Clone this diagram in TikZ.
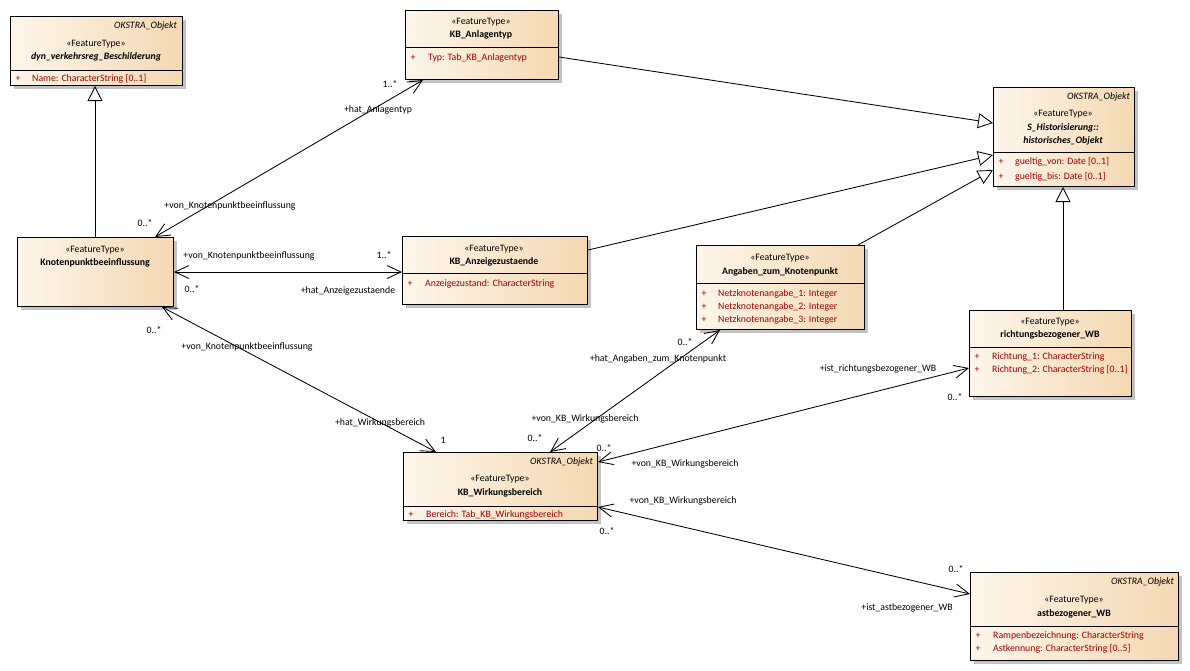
\documentclass[tikz,border=0pt]{standalone}
\usepackage{fontspec}
\setmainfont{Carlito}
\usetikzlibrary{arrows.meta,shadows,calc}
\definecolor{boxL}{RGB}{253,246,235}
\definecolor{boxR}{RGB}{244,216,178}
\definecolor{attr}{RGB}{155,0,0}
\definecolor{shad}{RGB}{195,195,195}
\newcommand\fs{\fontsize{9.8}{11}\selectfont}
\tikzset{
 cls/.style={draw=black, line width=1pt, left color=boxL, right color=boxR,
   inner sep=0pt, anchor=north west,
   drop shadow={shadow xshift=3pt,shadow yshift=-3pt,fill=shad,opacity=1}},
 sepline/.style={line width=0.9pt},
 stereo/.style={font=\fs, inner sep=0pt},
 cname/.style={font=\fs\bfseries, inner sep=0pt},
 cnamei/.style={font=\fs\bfseries\itshape, inner sep=0pt},
 obj/.style={font=\fs\itshape, anchor=east, inner sep=0pt},
 att/.style={font=\fs, text=attr, anchor=west, inner sep=0pt},
 plus/.style={font=\fs, text=attr, inner sep=0pt},
 lbl/.style={font=\fs, inner sep=0pt},
 barb/.tip={Straight Barb[length=14pt,width=13pt,line width=0.85pt]},
 assoc/.style={line width=0.85pt, barb-barb},
 gen/.style={line width=0.85pt, -{Triangle[open,length=15pt,width=15pt,fill=white,line width=0.85pt]}},
}
\begin{document}
\begin{tikzpicture}[x=1pt,y=-1pt]
\useasboundingbox (0,0) rectangle (1190,670);

% ---------- classes ----------
\node[cls, minimum width=172pt, minimum height=69pt] (dyn) at (10,16) {};
\draw[sepline] (dyn.west |- 0,70) -- (dyn.east |- 0,70);
\node[obj] (dynO) at (177,26) {OKSTRA\_Objekt};
\node[stereo] (dynS) at (96,44) {«FeatureType»};
\node[cnamei] (dynN) at (96,57) {dyn\_verkehrsreg\_Beschilderung};
\node[plus] (dynP1) at (18,79) {+};
\node[att] (dynA1) at (32,79) {Name: CharacterString [0..1]};

\node[cls, minimum width=153pt, minimum height=69pt] (anl) at (405,10) {};
\draw[sepline] (anl.west |- 0,47) -- (anl.east |- 0,47);
\node[stereo] (anlS) at (481,22) {«FeatureType»};
\node[cname] (anlN) at (481,35) {KB\_Anlagentyp};
\node[plus] (anlP1) at (413,58) {+};
\node[att] (anlA1) at (428,58) {Typ: Tab\_KB\_Anlagentyp};

\node[cls, minimum width=141pt, minimum height=99pt] (hist) at (993,87) {};
\draw[sepline] (hist.west |- 0,152) -- (hist.east |- 0,152);
\node[obj] (histO) at (1130,97) {OKSTRA\_Objekt};
\node[stereo] (histS) at (1063,114) {«FeatureType»};
\node[cnamei] (histN1) at (1063,128) {S\_Historisierung::};
\node[cnamei] (histN2) at (1063,141) {historisches\_Objekt};
\node[plus] (histP1) at (1001,162) {+};
\node[att] (histA1) at (1015,162) {gueltig\_von: Date [0..1]};
\node[plus] (histP2) at (1001,177) {+};
\node[att] (histA2) at (1015,177) {gueltig\_bis: Date [0..1]};

\node[cls, minimum width=156pt, minimum height=69pt] (knot) at (17,237) {};
\node[stereo] (knotS) at (95,250) {«FeatureType»};
\node[cname] (knotN) at (95,263) {Knotenpunktbeeinflussung};

\node[cls, minimum width=185pt, minimum height=68pt] (anz) at (402,236) {};
\draw[sepline] (anz.west |- 0,273) -- (anz.east |- 0,273);
\node[stereo] (anzS) at (494,249) {«FeatureType»};
\node[cname] (anzN) at (494,262) {KB\_Anzeigezustaende};
\node[plus] (anzP1) at (410,284) {+};
\node[att] (anzA1) at (425,284) {Anzeigezustand: CharacterString};

\node[cls, minimum width=168pt, minimum height=84pt] (ang) at (696,245) {};
\draw[sepline] (ang.west |- 0,283) -- (ang.east |- 0,283);
\node[stereo] (angS) at (780,258) {«FeatureType»};
\node[cname] (angN) at (780,272) {Angaben\_zum\_Knotenpunkt};
\node[plus] (angP1) at (704,294) {+};
\node[att] (angA1) at (718,294) {Netzknotenangabe\_1: Integer};
\node[plus] (angP2) at (704,307) {+};
\node[att] (angA2) at (718,307) {Netzknotenangabe\_2: Integer};
\node[plus] (angP3) at (704,320) {+};
\node[att] (angA3) at (718,320) {Netzknotenangabe\_3: Integer};

\node[cls, minimum width=162pt, minimum height=86pt] (ri) at (969,310) {};
\draw[sepline] (ri.west |- 0,347) -- (ri.east |- 0,347);
\node[stereo] (riS) at (1050,322) {«FeatureType»};
\node[cname] (riN) at (1050,335) {richtungsbezogener\_WB};
\node[plus] (riP1) at (977,357) {+};
\node[att] (riA1) at (992,357) {Richtung\_1: CharacterString};
\node[plus] (riP2) at (977,370) {+};
\node[att] (riA2) at (992,370) {Richtung\_2: CharacterString [0..1]};

\node[cls, minimum width=194pt, minimum height=68pt] (wb) at (403,452) {};
\draw[sepline] (wb.west |- 0,506) -- (wb.east |- 0,506);
\node[obj] (wbO) at (593,462) {OKSTRA\_Objekt};
\node[stereo] (wbS) at (500,479) {«FeatureType»};
\node[cname] (wbN) at (500,493) {KB\_Wirkungsbereich};
\node[plus] (wbP1) at (411,515) {+};
\node[att] (wbA1) at (426,515) {Bereich: Tab\_KB\_Wirkungsbereich};

\node[cls, minimum width=208pt, minimum height=88pt] (ast) at (970,572) {};
\draw[sepline] (ast.west |- 0,626) -- (ast.east |- 0,626);
\node[obj] (astO) at (1174,582) {OKSTRA\_Objekt};
\node[stereo] (astS) at (1074,600) {«FeatureType»};
\node[cname] (astN) at (1074,614) {astbezogener\_WB};
\node[plus] (astP1) at (978,636) {+};
\node[att] (astA1) at (993,636) {Rampenbezeichnung: CharacterString};
\node[plus] (astP2) at (978,649) {+};
\node[att] (astA2) at (993,649) {Astkennung: CharacterString [0..5]};

% ---------- generalizations ----------
\draw[gen] (knot.north -| 95,0) -- (dyn.south -| 95,0);
\draw[gen] (anl.east |- 0,57) -- (hist.west |- 0,123);
\draw[gen] (anz.east |- 0,250) -- (hist.west |- 0,155);
\draw[gen] (ang.north -| 858,0) -- (hist.west |- 0,170);
\draw[gen] (ri.north -| 1063,0) -- (hist.south -| 1063,0);

% ---------- associations ----------
\draw[assoc] (knot.north -| 155,0) -- (anl.south -| 423,0);
\node[lbl] (l1a) at (390,84) {1..*};
\node[lbl] (l1b) at (378,110) {+hat\_Anlagentyp};
\node[lbl] (l1c) at (230,206) {+von\_Knotenpunktbeeinflussung};
\node[lbl] (l1d) at (145,223) {0..*};

\draw[assoc] (knot.east |- 0,272) -- (anz.west |- 0,272);
\node[lbl] (l2a) at (249,256) {+von\_Knotenpunktbeeinflussung};
\node[lbl] (l2b) at (384,255) {1..*};
\node[lbl] (l2c) at (192,289) {0..*};
\node[lbl] (l2d) at (348,291) {+hat\_Anzeigezustaende};

\draw[assoc] (knot.south -| 162,0) -- (wb.north -| 436,0);
\node[lbl] (l3a) at (154,330) {0..*};
\node[lbl] (l3b) at (247,347) {+von\_Knotenpunktbeeinflussung};
\node[lbl] (l3c) at (380,423) {+hat\_Wirkungsbereich};
\node[lbl] (l3d) at (443,440) {1};

\draw[assoc] (wb.north -| 550,0) -- (ang.south -| 720,0);
\node[lbl] (l4a) at (685,342) {0..*};
\node[lbl] (l4b) at (658,359) {+hat\_Angaben\_zum\_Knotenpunkt};
\node[lbl] (l4c) at (585,419) {+von\_KB\_Wirkungsbereich};
\node[lbl] (l4d) at (535,438) {0..*};

\draw[assoc] (wb.east |- 0,462) -- (ri.west |- 0,368);
\node[lbl] (l5a) at (604,448) {0..*};
\node[lbl] (l5b) at (685,464) {+von\_KB\_Wirkungsbereich};
\node[lbl] (l5c) at (878,369) {+ist\_richtungsbezogener\_WB};
\node[lbl] (l5d) at (955,397) {0..*};

\draw[assoc] (wb.east |- 0,507) -- (ast.west |- 0,594);
\node[lbl] (l6a) at (683,501) {+von\_KB\_Wirkungsbereich};
\node[lbl] (l6b) at (607,531) {0..*};
\node[lbl] (l6c) at (956,569) {0..*};
\node[lbl] (l6d) at (907,608) {+ist\_astbezogener\_WB};
\end{tikzpicture}
\end{document}
